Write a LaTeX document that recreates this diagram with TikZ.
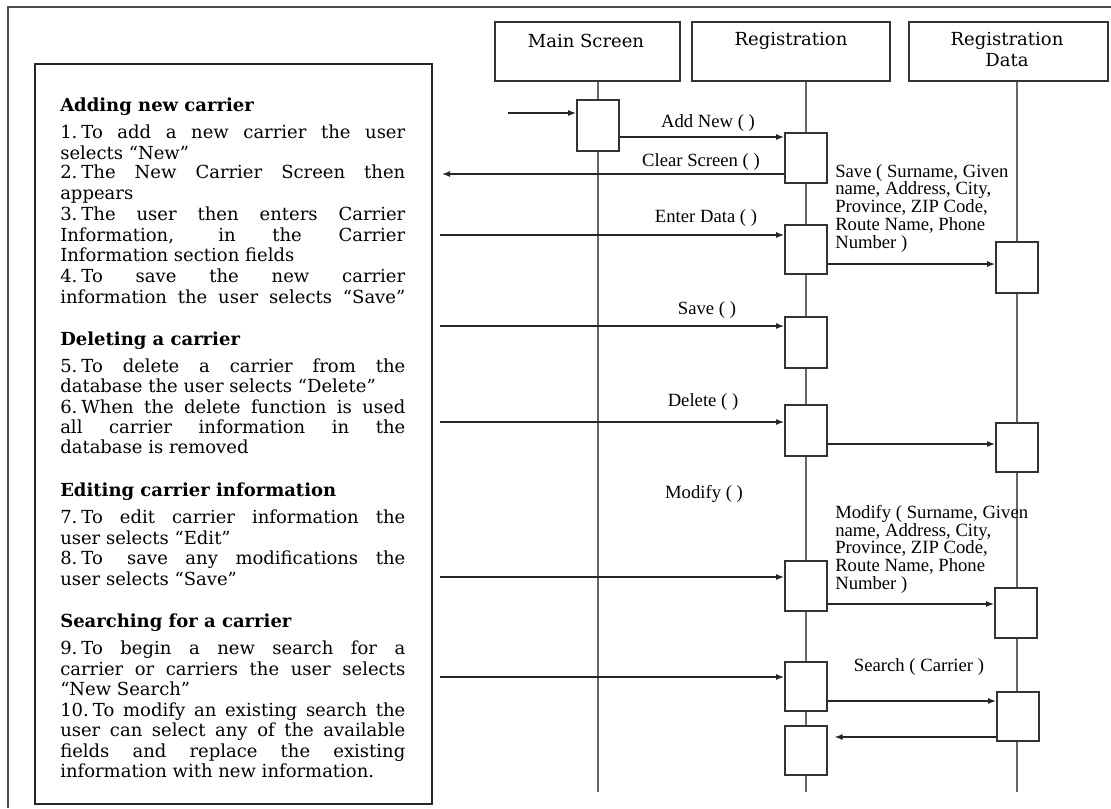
\documentclass[tikz,border=0pt]{standalone}
\usepackage{fontspec}
\setmainfont{DejaVu Serif}
\newfontfamily\lbfont{Liberation Serif}
\usetikzlibrary{arrows.meta}
\newcommand\jl[1]{\makebox[258.75pt][s]{#1}}
\newcommand\nm[1]{#1.\kern3pt}
\newcommand\tline[3]{\node[ltxt] (#1) at (60,#2) {#3};}
\begin{document}
\begin{tikzpicture}[x=0.75pt,y=-0.75pt,
  ltxt/.style={anchor=base west, inner sep=0pt, font=\fontsize{13.5}{15.5}\selectfont},
  hdrbox/.style={draw=black!80, line width=1.3pt, inner sep=0pt},
  hdrtxt/.style={inner sep=0pt, font=\fontsize{13.5}{15.75}\selectfont, align=center},
  actbox/.style={draw=black!80, fill=white, line width=1.3pt, inner sep=0pt, minimum width=31.5pt},
  life/.style={draw=black!60, line width=1.5pt},
  msg/.style={draw=black!85, line width=1pt, -{Latex[length=6pt,width=4.5pt]}},
  lbl/.style={inner sep=0pt, font=\lbfont\fontsize{14}{13.1}\selectfont},
  blk/.style={inner sep=0pt, anchor=north west, align=left, font=\lbfont\fontsize{14}{13.3}\selectfont},
]
\useasboundingbox (0,0) rectangle (1111,808);
% outer frame (top and left)
\coordinate (ftl) at (8,7);
\coordinate (ftr) at (1111,7);
\coordinate (fbl) at (8,808);
\draw[black!70, line width=1.5pt] (fbl) -- (ftl) -- (ftr);
% left text box
\node[draw=black!85, line width=1.2pt, inner sep=0pt, minimum width=297.75pt, minimum height=555pt] (tbox) at (233.5,434) {};
% headers
\node[hdrbox, minimum width=138.75pt, minimum height=44.25pt] (hmain) at (587.5,51.5) {};
\node[hdrbox, minimum width=148.5pt, minimum height=44.25pt] (hreg) at (791,51.5) {};
\node[hdrbox, minimum width=149.25pt, minimum height=44.25pt] (hdat) at (1008.5,51.5) {};
\node[hdrtxt] (tmain) at (586,41) {Main Screen};
\node[hdrtxt] (treg) at (791,41) {Registration};
\node[hdrtxt, anchor=north] (tdat) at (1007,32) {Registration\\Data};
% lifelines
\coordinate (mend) at (598,792);
\coordinate (rend) at (806,792);
\coordinate (dend) at (1017,792);
\draw[life] (hmain.south -| mend) -- (mend);
\draw[life] (hreg.south -| rend) -- (rend);
\draw[life] (hdat.south -| dend) -- (dend);
% activation boxes
\node[actbox, minimum height=38.25pt] (mact) at (598,125.5) {};
\node[actbox, minimum height=37.5pt] (ract1) at (806,158) {};
\node[actbox, minimum height=36.75pt] (ract2) at (806,249.5) {};
\node[actbox, minimum height=38.25pt] (ract3) at (806,342.5) {};
\node[actbox, minimum height=38.25pt] (ract4) at (806,430.5) {};
\node[actbox, minimum height=37.5pt] (ract5) at (806,586) {};
\node[actbox, minimum height=36.75pt] (ract6) at (806,686.5) {};
\node[actbox, minimum height=36.75pt] (ract7) at (806,750.5) {};
\node[actbox, minimum height=38.25pt] (dact1) at (1017,267.5) {};
\node[actbox, minimum height=36.75pt] (dact2) at (1017,447.5) {};
\node[actbox, minimum height=37.5pt] (dact3) at (1016,613) {};
\node[actbox, minimum height=36.75pt] (dact4) at (1018,716.5) {};
% message end points
\coordinate (in0) at (508,113);
\coordinate (yadd) at (0,137);
\coordinate (clr) at (442,174);
\coordinate (ent) at (440,235);
\coordinate (ysv) at (0,264);
\coordinate (sav) at (440,326);
\coordinate (del) at (440,422);
\coordinate (ydl) at (0,444);
\coordinate (mod) at (440,577);
\coordinate (ymd) at (0,604);
\coordinate (sea) at (440,677);
\coordinate (ysr) at (0,701);
\coordinate (yrt) at (0,737);
% messages
\draw[msg] (in0) -- (in0 -| mact.west);
\draw[msg] (mact.east |- yadd) -- (ract1.west |- yadd);
\draw[msg] (ract1.west |- clr) -- (clr);
\draw[msg] (ent) -- (ent -| ract2.west);
\draw[msg] (ract2.east |- ysv) -- (dact1.west |- ysv);
\draw[msg] (sav) -- (sav -| ract3.west);
\draw[msg] (del) -- (del -| ract4.west);
\draw[msg] (ract4.east |- ydl) -- (dact2.west |- ydl);
\draw[msg] (mod) -- (mod -| ract5.west);
\draw[msg] (ract5.east |- ymd) -- (dact3.west |- ymd);
\draw[msg] (sea) -- (sea -| ract6.west);
\draw[msg] (ract6.east |- ysr) -- (dact4.west |- ysr);
\draw[msg, shorten >=5pt] (dact4.west |- yrt) -- (ract7.east |- yrt);
% message labels
\node[lbl] (ladd) at (708,123) {Add New ( )};
\node[lbl] (lclr) at (701,162) {Clear Screen ( )};
\node[lbl] (lent) at (706,218) {Enter Data ( )};
\node[lbl] (lsav) at (707,310) {Save ( )};
\node[lbl] (ldel) at (703,402) {Delete ( )};
\node[lbl] (lmod) at (704,494) {Modify ( )};
\node[lbl] (lsea) at (919,667) {Search ( Carrier )};
\node[blk] (lsavd) at (835,164) {Save ( Surname, Given\\ name, Address, City,\\ Province, ZIP Code,\\ Route Name, Phone\\ Number )};
\node[blk] (lmodd) at (835,505) {Modify ( Surname, Given\\ name, Address, City,\\ Province, ZIP Code,\\ Route Name, Phone\\ Number )};
% left text
\tline{h1}{111}{\textbf{Adding new carrier}}
\tline{l1}{138}{\jl{\nm{1}To add a new carrier the user}}
\tline{l2}{159}{selects “New”}
\tline{l3}{178}{\jl{\nm{2}The New Carrier Screen then}}
\tline{l4}{199}{appears}
\tline{l5}{220}{\jl{\nm{3}The user then enters Carrier}}
\tline{l6}{241}{\jl{Information, in the Carrier}}
\tline{l7}{261}{Information section fields}
\tline{l8}{282}{\jl{\nm{4}To save the new carrier}}
\tline{l9}{303}{\jl{information the user selects “Save”}}
\tline{h2}{345}{\textbf{Deleting a carrier}}
\tline{l10}{372}{\jl{\nm{5}To delete a carrier from the}}
\tline{l11}{392}{database the user selects “Delete”}
\tline{l12}{413}{\jl{\nm{6}When the delete function is used}}
\tline{l13}{433}{\jl{all carrier information in the}}
\tline{l14}{453}{database is removed}
\tline{h3}{496}{\textbf{Editing carrier information}}
\tline{l15}{523}{\jl{\nm{7}To edit carrier information the}}
\tline{l16}{544}{user selects “Edit”}
\tline{l17}{564}{\jl{\nm{8}To\kern5pt{} save any modifications the}}
\tline{l18}{585}{user selects “Save”}
\tline{h4}{627}{\textbf{Searching for a carrier}}
\tline{l19}{654}{\jl{\nm{9}To begin a new search for a}}
\tline{l20}{675}{\jl{carrier or carriers the user selects}}
\tline{l21}{695}{“New Search”}
\tline{l22}{716}{\jl{\nm{10}To modify an existing search the}}
\tline{l23}{736}{\jl{user can select any of the available}}
\tline{l24}{757}{\jl{fields and replace the existing}}
\tline{l25}{777}{information with new information.}
\end{tikzpicture}
\end{document}
